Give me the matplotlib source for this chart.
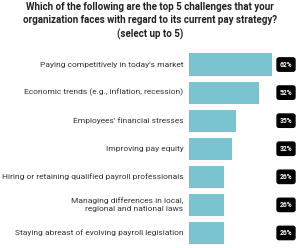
import matplotlib.pyplot as plt
from matplotlib.transforms import blended_transform_factory

plt.rcParams['font.family'] = ['Roboto', 'DejaVu Sans']

# Data
categories = [
    "Paying competitively in today's market",
    "Economic trends (e.g., inflation, recession)",
    "Employees' financial stresses",
    "Improving pay equity",
    "Hiring or retaining qualified payroll professionals",
    "Managing differences in local,\nregional and national laws",
    "Staying abreast of evolving payroll legislation",
]
values = [62, 52, 35, 32, 26, 26, 26]
value_labels = ["62%", "52%", "35%", "32%", "26%", "26%", "26%"]

title = ("Which of the following are the top 5 challenges that your\n"
         "organization faces with regard to its current pay strategy?\n"
         "(select up to 5)")

W, H = 300, 248
fig = plt.figure(figsize=(W / 100, H / 100), dpi=100)
fig.patch.set_facecolor('white')

ax = fig.add_axes([189 / W, 1 - 247 / H, 111 / W, (247 - 50.5) / H])
ypos = list(range(len(categories)))
ax.barh(ypos, values, height=0.79, color='#7AC3D1')
ax.set_xlim(0, 111 / 1.34)
ax.set_ylim(len(categories) - 0.5, -0.5)
ax.axis('off')

tr = blended_transform_factory(ax.transAxes, ax.transData)
for y, cat, lab in zip(ypos, categories, value_labels):
    ax.text(-0.05, y, cat, transform=tr, ha='right', va='center',
            fontsize=6.0, color='#333333', linespacing=1.45)
    ax.text(0.874, y, lab, transform=tr, ha='center', va='center',
            fontsize=4.8, fontweight='bold', color='white',
            bbox=dict(boxstyle='round,pad=0.4,rounding_size=0.3',
                      fc='black', ec='black'))

fig.text(0.5, 1 - 21 / H, title, ha='center', va='center', fontsize=7.0,
         fontweight='bold', color='#222222', linespacing=1.4)

fig.savefig('out.png', dpi=100)
